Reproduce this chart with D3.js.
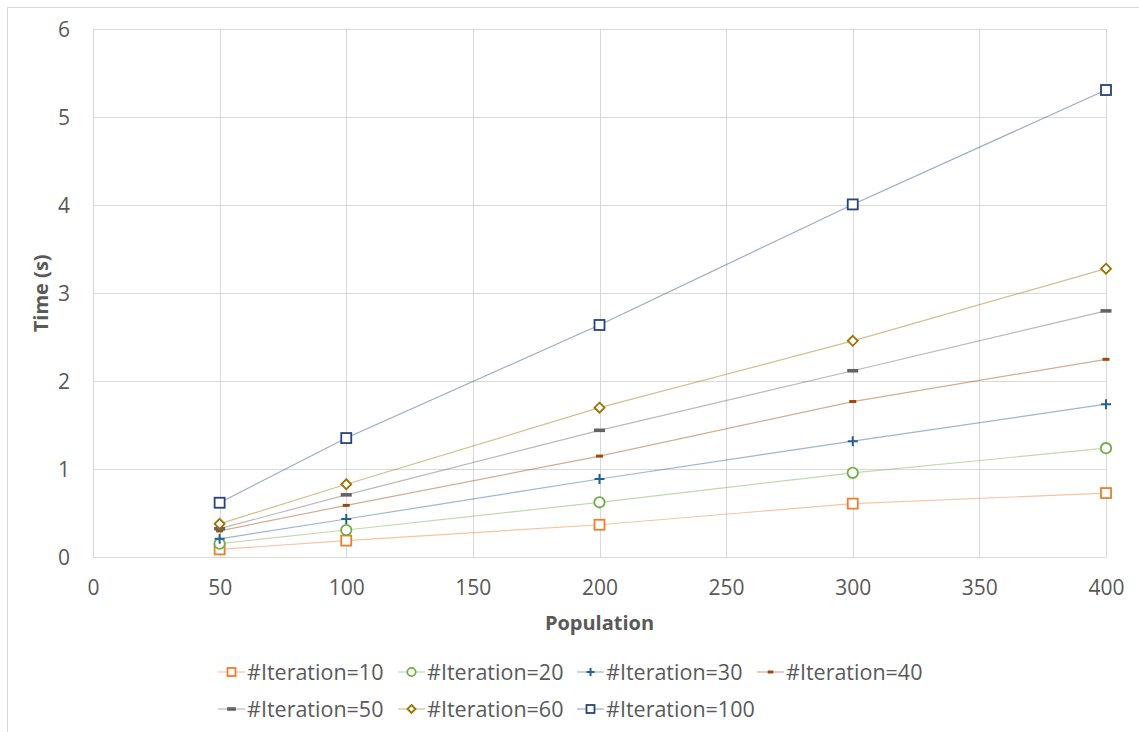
<!DOCTYPE html>
<html>
<head>
<meta charset="utf-8">
<script src="https://cdn.jsdelivr.net/npm/d3@7"></script>
<style>
  html, body { margin: 0; padding: 0; background: #fff; }
  svg { display: block; font-family: "Open Sans", "Noto Sans", sans-serif; }
</style>
</head>
<body>
<svg id="chart" width="1139" height="732"></svg>
<script>
// Population sizes on the x axis
const population = [50, 100, 200, 300, 400];

// Run time in seconds for each iteration count
const iter10  = [0.09, 0.19, 0.37, 0.61, 0.73];
const iter20  = [0.155, 0.31, 0.625, 0.96, 1.24];
const iter30  = [0.21, 0.435, 0.89, 1.32, 1.74];
const iter40  = [0.30, 0.59, 1.15, 1.77, 2.25];
const iter50  = [0.325, 0.71, 1.443, 2.12, 2.80];
const iter60  = [0.38, 0.83, 1.70, 2.46, 3.28];
const iter100 = [0.62, 1.355, 2.64, 4.01, 5.31];

const seriesNames = ["#Iteration=10", "#Iteration=20", "#Iteration=30", "#Iteration=40",
                     "#Iteration=50", "#Iteration=60", "#Iteration=100"];
const seriesValues = [iter10, iter20, iter30, iter40, iter50, iter60, iter100];
const seriesColors = ["#ED7D31", "#70AD47", "#255E91", "#9E480E", "#636363", "#997300", "#264478"];
const seriesMarkers = ["square", "circle", "plus", "dash", "wideDash", "diamond", "square"];

const xTicks = [0, 50, 100, 150, 200, 250, 300, 350, 400];
const yTicks = [0, 1, 2, 3, 4, 5, 6];

const svg = d3.select("#chart");
const plot = { left: 93, right: 1106, top: 29.3, bottom: 557.3 };

const x = d3.scaleLinear().domain([0, 400]).range([plot.left, plot.right]);
const y = d3.scaleLinear().domain([0, 6]).range([plot.bottom, plot.top]);

// Chart frame
svg.append("rect")
  .attr("x", 7.5).attr("y", 7.5).attr("width", 1140).attr("height", 740)
  .attr("fill", "none").attr("stroke", "#D9D9D9").attr("stroke-width", 1);

// Gridlines
const grid = svg.append("g");
grid.selectAll("line.h").data(yTicks).join("line")
  .attr("x1", plot.left).attr("x2", plot.right)
  .attr("y1", d => Math.round(y(d)) + 0.5).attr("y2", d => Math.round(y(d)) + 0.5)
  .attr("stroke", "#D9D9D9").attr("stroke-width", 1);
grid.selectAll("line.v").data(xTicks).join("line")
  .attr("y1", plot.top).attr("y2", plot.bottom)
  .attr("x1", d => Math.round(x(d)) + 0.5).attr("x2", d => Math.round(x(d)) + 0.5)
  .attr("stroke", "#D9D9D9").attr("stroke-width", 1);

// Axes (labels only)
const xAxis = svg.append("g")
  .attr("transform", `translate(0,${plot.bottom})`)
  .call(d3.axisBottom(x).tickValues(xTicks).tickFormat(d3.format("d")).tickSize(0).tickPadding(23));
const yAxis = svg.append("g")
  .attr("transform", `translate(${plot.left},0)`)
  .call(d3.axisLeft(y).tickValues(yTicks).tickFormat(d3.format("d")).tickSize(0).tickPadding(23));
[xAxis, yAxis].forEach(a => {
  a.select(".domain").remove();
  a.selectAll("text").attr("fill", "#595959").style("font-size", "21px")
    .style("font-family", "'Open Sans', sans-serif");
});
yAxis.selectAll("text").attr("dy", "0.35em");

// Axis titles
svg.append("text")
  .attr("x", (plot.left + plot.right) / 2).attr("y", 630)
  .attr("text-anchor", "middle").attr("fill", "#595959")
  .style("font-size", "20px").style("font-weight", "bold")
  .text("Population");
svg.append("text")
  .attr("transform", `translate(48,${(plot.top + plot.bottom) / 2}) rotate(-90)`)
  .attr("text-anchor", "middle").attr("fill", "#595959")
  .style("font-size", "20px").style("font-weight", "bold")
  .text("Time (s)");

// Marker drawing
function drawMarker(g, type, color, cx, cy, scale) {
  const s = scale || 1;
  if (type === "square") {
    const h = 5 * s;
    g.append("rect").attr("x", cx - h).attr("y", cy - h).attr("width", 2 * h).attr("height", 2 * h)
      .attr("fill", "#fff").attr("stroke", color).attr("stroke-width", 1.8);
  } else if (type === "circle") {
    g.append("circle").attr("cx", cx).attr("cy", cy).attr("r", 5.2 * s)
      .attr("fill", "#fff").attr("stroke", color).attr("stroke-width", 1.8);
  } else if (type === "diamond") {
    const h = 5 * s;
    g.append("path").attr("d", `M${cx},${cy - h}L${cx + h},${cy}L${cx},${cy + h}L${cx - h},${cy}Z`)
      .attr("fill", "#fff").attr("stroke", color).attr("stroke-width", 1.8);
  } else if (type === "plus") {
    const h = 5 * s;
    g.append("path").attr("d", `M${cx - h},${cy}H${cx + h}M${cx},${cy - h}V${cy + h}`)
      .attr("stroke", color).attr("stroke-width", 2);
  } else if (type === "dash") {
    g.append("rect").attr("x", cx - 3.5 * s).attr("y", cy - 1.5).attr("width", 7 * s).attr("height", 3)
      .attr("fill", color);
  } else if (type === "wideDash") {
    g.append("rect").attr("x", cx - 5.5 * s).attr("y", cy - 1.8).attr("width", 11 * s).attr("height", 3.6)
      .attr("fill", color);
  }
}

// Series lines and markers
const line = d3.line().x(d => x(d[0])).y(d => y(d[1]));
seriesValues.forEach((vals, i) => {
  const pts = population.map((p, j) => [p, vals[j]]);
  const g = svg.append("g");
  g.append("path").attr("d", line(pts))
    .attr("fill", "none").attr("stroke", seriesColors[i])
    .attr("stroke-opacity", 0.45).attr("stroke-width", 1.2);
  pts.forEach(p => drawMarker(g, seriesMarkers[i], seriesColors[i], x(p[0]), y(p[1]), 1));
});

// Legend
const legendCols = [218, 398, 577, 757];
const legendRows = [672, 709];
seriesNames.forEach((name, i) => {
  const col = i < 4 ? i : i - 4;
  const row = i < 4 ? 0 : 1;
  const lx = legendCols[col], ly = legendRows[row];
  const g = svg.append("g");
  g.append("line").attr("x1", lx).attr("x2", lx + 27).attr("y1", ly).attr("y2", ly)
    .attr("stroke", seriesColors[i]).attr("stroke-opacity", 0.45).attr("stroke-width", 1.2);
  drawMarker(g, seriesMarkers[i], seriesColors[i], lx + 13.5, ly, 0.8);
  g.append("text").attr("x", lx + 29).attr("y", ly).attr("dy", "0.35em")
    .attr("fill", "#595959").style("font-size", "21.5px").text(name);
});
</script>
</body>
</html>
